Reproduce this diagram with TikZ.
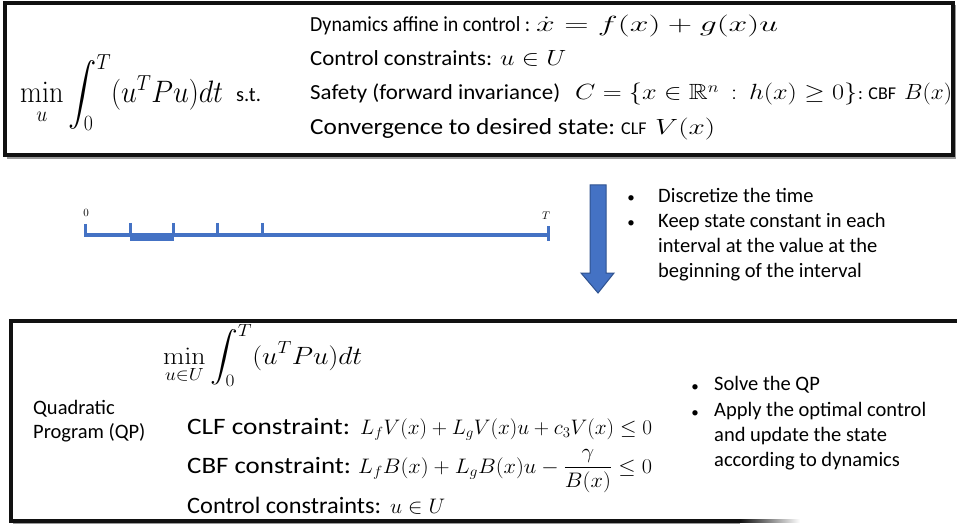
\RequirePackage{fix-cm}
\documentclass[tikz,border=0pt]{standalone}
\usepackage{amsmath,amssymb}
\usepackage{graphicx}
\usepackage[no-math]{fontspec}
\newfontfamily\cfont{Carlito}
\definecolor{tlblue}{HTML}{4472C4}
\definecolor{arrowedge}{HTML}{2F528F}
\definecolor{bordc}{HTML}{111111}
\newcommand{\wfit}[2]{\resizebox{#1pt}{\height}{#2}}
\begin{document}
\begin{tikzpicture}[x=1pt,y=-1pt,
  bord/.style={draw=bordc, line width=3.5pt},
  shad/.style={draw=black!40, line width=1.5pt},
  txt/.style={font=\cfont\fontsize{21.5}{25}\selectfont, inner sep=0pt, anchor=base west},
  stxt/.style={font=\cfont\fontsize{18}{22}\selectfont, inner sep=0pt, anchor=base west},
  mth/.style={font=\fontsize{22}{26}\selectfont, inner sep=0pt, anchor=base west},
  btxt/.style={font=\cfont\fontsize{20.5}{25}\selectfont, inner sep=0pt, anchor=north west, align=left},
  bul/.style={font=\cfont\fontsize{15}{25}\selectfont, inner sep=0pt, anchor=center},
  tl/.style={draw=tlblue, line width=3.5pt},
  tick/.style={draw=tlblue, line width=3pt},
  downarrow/.style={fill=tlblue, draw=arrowedge, line width=1pt}
]
\useasboundingbox (0,0) rectangle (957,529);

% ---------- top box ----------
\draw[shad] (7,158) -- (955,158) -- (955,5);
\draw[bord] (5,3) rectangle (953,155);

\node[mth, font=\fontsize{31}{36}\selectfont] (obj) at (20,103)
  {\wfit{203}{$\displaystyle\min_{u}\int_0^T (u^TPu)dt$}};
\node[txt, font=\cfont\fontsize{20.5}{25}\selectfont] (st) at (236,102) {s.t.};

\node[txt] (dyn) at (310,32) {\wfit{220}{Dynamics affine in control :}};
\node[mth] (dynm) at (536,32) {\wfit{242}{$\dot{x} = f(x) + g(x)u$}};

\node[txt] (ctl) at (310,66) {\wfit{182}{Control constraints:}};
\node[mth] (ctlm) at (500,66) {\wfit{66}{$u \in U$}};

\node[txt] (saf) at (310,100) {\wfit{250}{Safety (forward invariance)}};
\node[mth] (safm) at (575,100) {\wfit{282}{$C = \{x \in \mathbb{R}^n \,:\, h(x) \geq 0\}$}};
\node[stxt] (cbfl) at (858,100) {: CBF};
\node[mth] (bx) at (904,100) {\wfit{48}{$B(x)$}};

\node[txt, font=\cfont\fontsize{23}{26}\selectfont] (conv) at (310,135) {\wfit{305}{Convergence to desired state:}};
\node[stxt] (clfl) at (621,135) {CLF};
\node[mth] (vx) at (655,135) {\wfit{60}{$V(x)$}};

% ---------- timeline ----------
\coordinate (t0) at (85,235);
\coordinate (tT) at (548,235);
\draw[tl] (t0) -- (tT);
\draw[tick] (85,224) -- (85,237);
\draw[tick] (130,223) -- (130,235);
\draw[tick] (173,223) -- (173,235);
\draw[tick] (217,223) -- (217,235);
\draw[tick] (262,223) -- (262,235);
\draw[tick] (548,226) -- (548,241);
\fill[tlblue] (130,234) rectangle (174,241);
\node[font=\fontsize{11}{13}\selectfont, inner sep=0pt] (lab0) at (86,213) {$0$};
\node[font=\fontsize{11}{13}\selectfont, inner sep=0pt] (labT) at (546,216) {$T$};

% ---------- down arrow ----------
\draw[downarrow] (590,185) -- (606,185) -- (606,273) -- (614,273) -- (598,293)
  -- (581,273) -- (590,273) -- cycle;

\node[bul] (b1) at (631,199) {\textbullet};
\node[btxt] (d1) at (658,188) {Discretize the time};
\node[bul] (b2) at (631,224) {\textbullet};
\node[btxt] (d2) at (658,213) {Keep state constant in each\\interval at the value at the\\beginning of the interval};

% ---------- bottom box ----------
\draw[shad] (13,523) -- (740,523);
\draw[bord] (957,321) -- (11,321) -- (11,521) -- (740,521);
\shade[left color=bordc, right color=white] (740,519.25) rectangle (800,522.75);

\node[mth, font=\fontsize{25}{29}\selectfont] (qpobj) at (163,364)
  {\wfit{199}{$\displaystyle\min_{u\in U}\int_0^T (u^TPu)dt$}};

\node[txt, anchor=north west, align=left, font=\cfont\fontsize{20.5}{24.5}\selectfont] (qp) at (33,400) {Quadratic\\Program (QP)};

\node[txt, font=\cfont\fontsize{23.5}{27}\selectfont] (clf) at (187,434) {\wfit{163}{CLF constraint:}};
\node[mth, font=\fontsize{21}{25}\selectfont] (clfm) at (360,434)
  {\wfit{292}{$L_fV(x) + L_gV(x)u + c_3V(x) \leq 0$}};

\node[txt, font=\cfont\fontsize{23.5}{27}\selectfont] (cbf) at (187,473) {\wfit{164}{CBF constraint:}};
\node[mth, font=\fontsize{21}{25}\selectfont] (cbfm) at (358,473)
  {\wfit{294}{$L_fB(x) + L_gB(x)u - \dfrac{\gamma}{B(x)} \leq 0$}};

\node[txt, font=\cfont\fontsize{23.5}{27}\selectfont] (cc) at (187,513) {\wfit{194}{Control constraints:}};
\node[mth, font=\fontsize{21}{25}\selectfont] (ccm) at (390,513) {\wfit{55}{$u \in U$}};

\node[bul] (b3) at (695,388) {\textbullet};
\node[btxt] (s1) at (714,376) {Solve the QP};
\node[bul] (b4) at (695,414) {\textbullet};
\node[btxt] (s2) at (714,402) {Apply the optimal control\\and update the state\\according to dynamics};
\end{tikzpicture}
\end{document}
